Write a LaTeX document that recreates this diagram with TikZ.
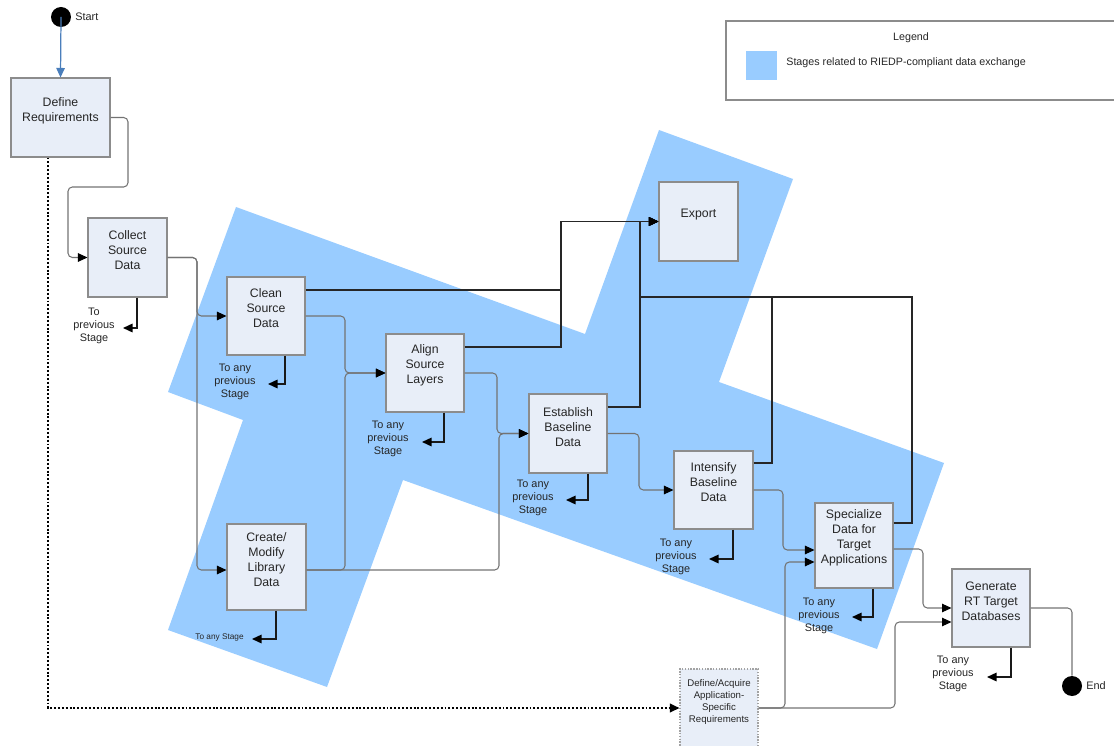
\documentclass[tikz,border=0pt]{standalone}
\usepackage{fontspec}
\setmainfont{Liberation Sans}
\usetikzlibrary{arrows.meta,calc}
\definecolor{regionblue}{RGB}{153,204,255}
\definecolor{boxfill}{RGB}{232,238,248}
\definecolor{boxline}{RGB}{140,140,140}
\definecolor{connline}{RGB}{115,115,115}
\definecolor{startblue}{RGB}{74,126,187}
\begin{document}
\begin{tikzpicture}[x=0.02cm,y=-0.02cm,
  stagebox/.style={draw=boxline, fill=boxfill, line width=0.6pt, inner sep=0pt},
  stagetext/.style={align=center, inner sep=0pt, font=\fontsize{7}{8.5}\selectfont, text=black!85},
  backtext/.style={align=center, inner sep=0pt, font=\fontsize{6.2}{7.4}\selectfont, text=black!85},
  smalltext/.style={align=center, inner sep=0pt, font=\fontsize{5.5}{6.8}\selectfont, text=black!85},
  tip/.style={-{Triangle[length=0.19cm,width=0.17cm,color=black]}},
  softflow/.style={tip, draw=connline, line width=0.6pt, rounded corners=2.5pt},
  hardflow/.style={tip, draw=black!85, line width=0.8pt},
  backflow/.style={tip, draw=black!90, line width=0.8pt},
  terminal/.style={circle, fill=black, inner sep=0pt, minimum size=0.4cm}]
\useasboundingbox (0,0) rectangle (1114,746);

% blue region
\fill[regionblue] (236,207) -- (585,334) -- (659,130) -- (793,179) -- (719,382)
  -- (944,463) -- (877,649) -- (403,480) -- (327,687) -- (168,630) -- (243,420)
  -- (168,392) -- cycle;

% legend
\draw[boxline, line width=0.6pt] (1114,21) -- (726,21) -- (726,100) -- (1114,100);
\node[backtext, font=\fontsize{6.1}{7}\selectfont] (legtitle) at (911,38) {Legend};
\fill[regionblue] (746,51) rectangle (777,80);
\node[backtext, font=\fontsize{6.1}{7}\selectfont, anchor=west] (legtext) at (786,63) {Stages related to RIEDP-compliant data exchange};

% terminals
\node[terminal] (start) at (61,17) {};
\node[backtext, anchor=west] (starttxt) at (75,17) {Start};
\node[terminal] (end) at (1072,686) {};
\node[backtext, anchor=west] (endtxt) at (1086,686) {End};

% boxes
\node[stagebox, minimum width=1.98cm, minimum height=1.58cm] (dr) at (60.5,117.5) {};
\node[stagebox, minimum width=1.58cm, minimum height=1.58cm] (cs) at (127.5,257.5) {};
\node[stagebox, minimum width=1.56cm, minimum height=1.56cm] (cl) at (266,316) {};
\node[stagebox, minimum width=1.56cm, minimum height=1.56cm] (al) at (425,373) {};
\node[stagebox, minimum width=1.58cm, minimum height=1.72cm] (cm) at (266.5,567) {};
\node[stagebox, minimum width=1.58cm, minimum height=1.58cm] (ex) at (698.5,221.5) {};
\node[stagebox, minimum width=1.56cm, minimum height=1.58cm] (es) at (568,433.5) {};
\node[stagebox, minimum width=1.58cm, minimum height=1.56cm] (in) at (713.5,490) {};
\node[stagebox, minimum width=1.56cm, minimum height=1.70cm] (sp) at (854,545.5) {};
\node[stagebox, minimum width=1.56cm, minimum height=1.56cm] (ge) at (991,608) {};
\node[stagebox, draw=boxline!80, dash pattern=on 0.8pt off 0.8pt, minimum width=1.56cm, minimum height=1.56cm] (da) at (719,708) {};

% box texts
\node[stagetext] (drt) at (60.5,110.5) {Define\\Requirements};
\node[stagetext] (cst) at (127.5,250) {Collect\\Source\\Data};
\node[stagetext] (clt) at (266,308) {Clean\\Source\\Data};
\node[stagetext] (alt) at (425,365) {Align\\Source\\Layers};
\node[stagetext] (cmt) at (266.5,559.5) {Create/\\Modify\\Library\\Data};
\node[stagetext] (ext) at (698.5,215) {Export};
\node[stagetext] (est) at (568,427) {Establish\\Baseline\\Data};
\node[stagetext] (int) at (713.5,482) {Intensify\\Baseline\\Data};
\node[stagetext] (spt) at (854,538) {Specialize\\Data for\\Target\\Applications};
\node[stagetext] (get) at (991,601) {Generate\\RT Target\\Databases};
\node[smalltext] (dat) at (719,702) {Define/Acquire\\Application-\\Specific\\Requirements};

% start arrow
\draw[-{Triangle[length=0.19cm,width=0.17cm]}, startblue, line width=0.7pt] (start.center) -- (dr.north);

% soft (gray) flows
\draw[softflow] (dr.east) -- (128,117.5) -- (128,187) -- (68,187) |- (cs.west);
\draw[softflow] (cs.east) -- (197,257.5) |- (cl.west);
\draw[softflow] (cs.east) -- (197,257.5) |- ($(cm.west)+(0,3)$);
\draw[softflow] (cl.east) -- (345,316) |- (al.west);
\draw[softflow] ($(cm.east)+(0,3)$) -- (345,570) |- (al.west);
\draw[softflow] (al.east) -- (497,373) |- (es.west);
\draw[softflow] ($(cm.east)+(0,3)$) -- (499,570) |- (es.west);
\draw[softflow] (es.east) -- (639,433.5) |- (in.west);
\draw[softflow] (in.east) -- (783,490) |- ($(sp.west)+(0,4.5)$);
\draw[softflow] (da.east) -- (785,708) |- ($(sp.west)+(0,16.5)$);
\draw[softflow] ($(sp.east)+(0,3.5)$) -- (923,549) |- (ge.west);
\draw[softflow] (da.east) -- (895,708) |- ($(ge.west)+(0,14)$);
\draw[draw=connline, line width=0.6pt, rounded corners=2.5pt] (ge.east) -- (1072,608) -- (end.north);

% hard (black) flows to Export
\draw[hardflow] ($(cl.east)+(0,-26)$) -- (561,290) |- (ex.west);
\draw[hardflow] ($(al.east)+(0,-26)$) -- (561,347) |- (ex.west);
\draw[hardflow] ($(es.east)+(0,-26.5)$) -- (640,407) |- (ex.west);
\draw[hardflow] ($(in.east)+(0,-27)$) -- (772,463) -- (772,297) -- (640,297) |- (ex.west);
\draw[hardflow] ($(sp.east)+(0,-22.5)$) -- (912,523) -- (912,297) -- (640,297) |- (ex.west);

% dotted requirement flow
\draw[tip, black, line width=1.1pt, dash pattern=on 1.1pt off 1.1pt] ($(dr.south)+(-12.5,0)$) -- (48,708) -- (da.west);

% back flows
\coordinate (csb) at (123,328);
\coordinate (clb) at (268,384);
\coordinate (alb) at (422,442);
\coordinate (cmb) at (252,639);
\coordinate (esb) at (566,500);
\coordinate (inb) at (709,559);
\coordinate (spb) at (852,617);
\coordinate (geb) at (987,677);
\draw[backflow] ($(cs.south)+(9.5,0)$) |- (csb);
\draw[backflow] ($(cl.south)+(19,0)$) |- (clb);
\draw[backflow] ($(al.south)+(19,0)$) |- (alb);
\draw[backflow] ($(cm.south)+(9.5,0)$) |- (cmb);
\draw[backflow] ($(es.south)+(20,0)$) |- (esb);
\draw[backflow] ($(in.south)+(19.5,0)$) |- (inb);
\draw[backflow] ($(sp.south)+(19,0)$) |- (spb);
\draw[backflow] ($(ge.south)+(20,0)$) |- (geb);

\node[backtext] (csl) at (94,326) {To\\previous\\Stage};
\node[backtext] (cll) at (235,382) {To any\\previous\\Stage};
\node[backtext] (all) at (388,439) {To any\\previous\\Stage};
\node[backtext, font=\fontsize{4.7}{5.5}\selectfont] (cml) at (219.5,637) {To any Stage};
\node[backtext] (esl) at (533,498) {To any\\previous\\Stage};
\node[backtext] (inl) at (676,557) {To any\\previous\\Stage};
\node[backtext] (spl) at (819,616) {To any\\previous\\Stage};
\node[backtext] (gel) at (953,674) {To any\\previous\\Stage};
\end{tikzpicture}
\end{document}
